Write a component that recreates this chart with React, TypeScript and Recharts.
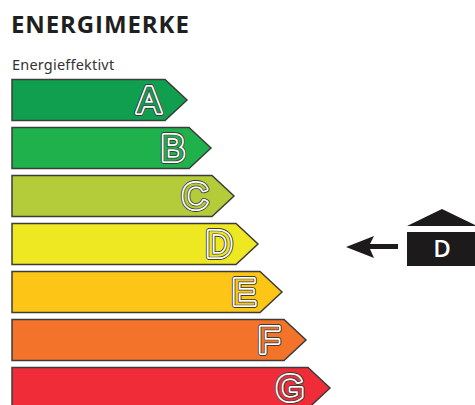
import { Bar, BarChart, ReferenceDot, XAxis, YAxis } from "recharts";

const grades = ["A", "B", "C", "D", "E", "F", "G"];
const lengths = [175, 199, 222, 246, 270, 294, 318];
const colors = ["#0f9f4f", "#1fb14c", "#b5cc3a", "#eee823", "#fdc516", "#f3732b", "#ef2c38"];
const currentGrade = "D";
const markerAt = 334;

const chartData = grades.map((grade, i) => ({ grade, length: lengths[i], color: colors[i] }));

const OUTLINE = "#3c3c3c";
const LETTER_FONT = "'Liberation Sans', Arial, sans-serif";

function ArrowBar({ x, y, width, height, payload }: any) {
  const tip = x + width;
  const neck = tip - 22;
  const mid = y + height / 2;
  const letter = {
    x: tip - 26,
    y: mid + 13,
    textAnchor: "end" as const,
    fontFamily: LETTER_FONT,
    fontSize: 36,
    fontWeight: 400,
    strokeLinejoin: "round" as const,
  };
  return (
    <g>
      <path
        d={`M${x},${y} L${neck},${y} L${tip},${mid} L${neck},${y + height} L${x},${y + height} Z`}
        fill={payload.color}
        stroke={OUTLINE}
        strokeWidth={1.5}
      />
      <text {...letter} fill={OUTLINE} stroke={OUTLINE} strokeWidth={6}>
        {payload.grade}
      </text>
      <text {...letter} fill="#fff" stroke="#fff" strokeWidth={4.2}>
        {payload.grade}
      </text>
      <text {...letter} fill={payload.color} stroke={OUTLINE} strokeWidth={0.7}>
        {payload.grade}
      </text>
    </g>
  );
}

function HouseMarker({ cx, cy }: any) {
  const y = cy + 3;
  const left = cx + 61;
  return (
    <g>
      <path
        d={`M${cx},${y} L${cx + 28},${y - 11} L${cx + 24},${y - 3} L${cx + 52},${y - 3} L${cx + 52},${y + 2} L${cx + 24},${y + 2} L${cx + 28},${y + 11} Z`}
        fill="#1c1a1a"
      />
      <path d={`M${left},${y - 21} L${left + 35},${y - 38} L${left + 70},${y - 21} Z`} fill="#1c1a1a" />
      <rect x={left} y={y - 15} width={68} height={34} fill="#1c1a1a" />
      <text
        x={left + 35}
        y={y + 10}
        textAnchor="middle"
        fontFamily="'Open Sans', sans-serif"
        fontWeight={600}
        fontSize={24}
        fill="#fff"
      >
        {currentGrade}
      </text>
    </g>
  );
}

export default function App() {
  return (
    <div style={{ position: "fixed", left: 0, top: 0, width: 475, height: 405, overflow: "hidden", background: "#fff" }}>
      <div
        style={{
          position: "absolute",
          left: 11,
          top: 8,
          fontFamily: "'Open Sans', sans-serif",
          fontWeight: 700,
          fontSize: 24,
          lineHeight: "32px",
          letterSpacing: 0.9,
          color: "#1f1f1f",
        }}
      >
        ENERGIMERKE
      </div>
      <div
        style={{
          position: "absolute",
          left: 12,
          top: 54,
          fontFamily: "'Noto Sans', sans-serif",
          fontSize: 14.5,
          lineHeight: "20px",
          letterSpacing: 0.2,
          color: "#333",
        }}
      >
        Energieffektivt
      </div>
      <BarChart
        width={475}
        height={412}
        data={chartData}
        layout="vertical"
        barCategoryGap={3.5}
        margin={{ top: 76, right: 0, bottom: 0, left: 12 }}
      >
        <XAxis type="number" hide domain={[0, 463]} />
        <YAxis type="category" dataKey="grade" hide />
        <Bar dataKey="length" isAnimationActive={false} shape={ArrowBar} />
        <ReferenceDot x={markerAt} y={currentGrade} ifOverflow="visible" shape={HouseMarker} />
      </BarChart>
    </div>
  );
}
